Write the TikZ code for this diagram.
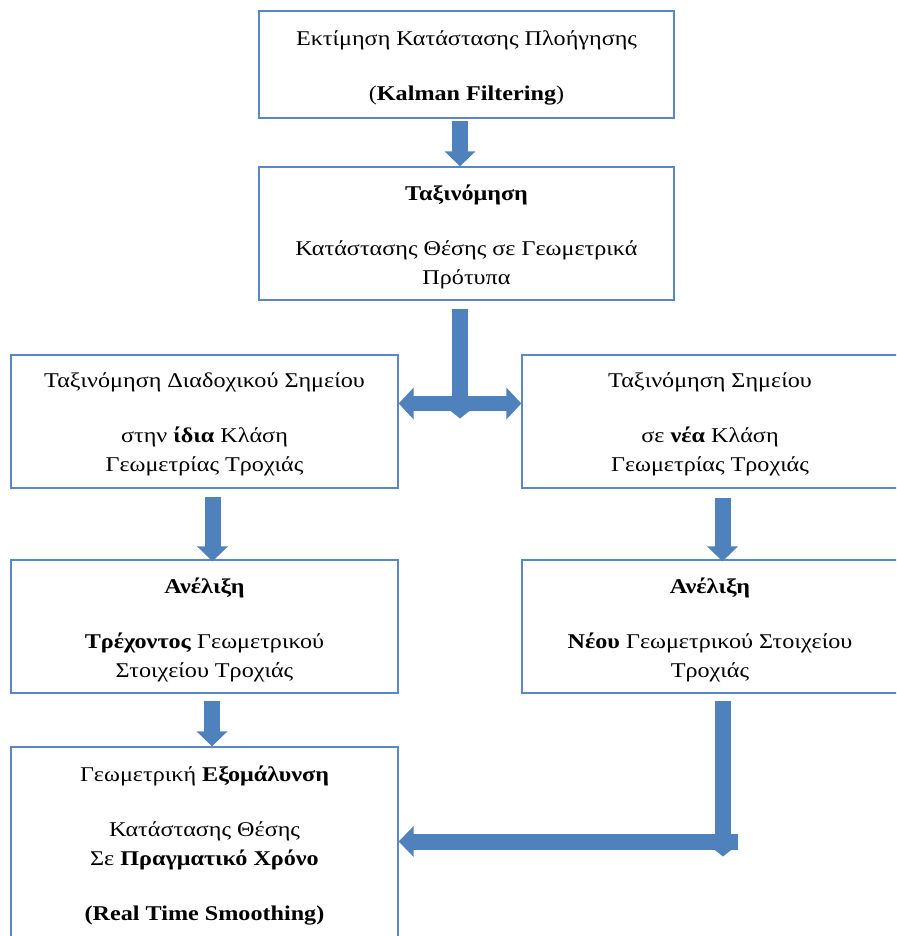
\documentclass[tikz,border=0pt]{standalone}
\usepackage{fontspec}
\setmainfont[FakeStretch=1.15]{Liberation Serif}
\usetikzlibrary{arrows.meta}
\definecolor{boxblue}{HTML}{5B87C3}
\definecolor{arrowblue}{HTML}{4F81BD}
\newcommand{\mainfs}{\fontsize{21}{29}\selectfont}
\tikzset{
  box/.style={draw=boxblue, line width=1.3pt, inner sep=0pt},
  boxtext/.style={inner sep=0pt, align=center, font=\mainfs, yshift=-3pt},
  fatline/.style={draw=arrowblue, line width=16pt},
  fat/.style={draw=arrowblue, line width=16pt, -{Triangle[length=15pt,width=30pt]}},
  fatboth/.style={draw=arrowblue, line width=15pt, {Triangle[length=15pt,width=31pt]}-{Triangle[length=15pt,width=31pt]}},
}
\begin{document}
\begin{tikzpicture}[x=1pt,y=-1pt]
\useasboundingbox (0,0) rectangle (896,936);
\clip (0,0) rectangle (896,936);
\fill[white] (0,0) rectangle (896,936);

\node[box, minimum width=415pt, minimum height=107pt] (b1) at (466.5,64.5) {};
\node[boxtext] (t1) at (b1.center)
  {Εκτίμηση Κατάστασης Πλοήγησης\\[26pt](\textbf{Kalman Filtering})};
\node[box, minimum width=415pt, minimum height=133pt] (b2) at (466.5,233.5) {};
\node[boxtext] (t2) at (b2.center)
  {\textbf{Ταξινόμηση}\\[26pt]Κατάστασης Θέσης σε Γεωμετρικά\\Πρότυπα};
\node[box, minimum width=387pt, minimum height=133pt] (b3l) at (204.5,421.5) {};
\node[boxtext] (t3l) at (b3l.center)
  {Ταξινόμηση Διαδοχικού Σημείου\\[26pt]στην \textbf{ίδια} Κλάση\\Γεωμετρίας Τροχιάς};
\node[box, minimum width=376pt, minimum height=133pt] (b3r) at (710,421.5) {};
\node[boxtext] (t3r) at (b3r.center)
  {Ταξινόμηση Σημείου\\[26pt]σε \textbf{νέα} Κλάση\\Γεωμετρίας Τροχιάς};
\node[box, minimum width=387pt, minimum height=133pt] (b4l) at (204.5,626.5) {};
\node[boxtext] (t4l) at (b4l.center)
  {\textbf{Ανέλιξη}\\[26pt]\textbf{Τρέχοντος} Γεωμετρικού\\Στοιχείου Τροχιάς};
\node[box, minimum width=376pt, minimum height=133pt] (b4r) at (710,626.5) {};
\node[boxtext] (t4r) at (b4r.center)
  {\textbf{Ανέλιξη}\\[26pt]\textbf{Νέου} Γεωμετρικού Στοιχείου\\Τροχιάς};
\node[box, minimum width=387pt, minimum height=193pt] (b5) at (204.5,843.5) {};
\node[boxtext, yshift=1pt] (t5) at (b5.center)
  {Γεωμετρική \textbf{Εξομάλυνση}\\[26pt]Κατάστασης Θέσης\\Σε \textbf{Πραγματικό Χρόνο}\\[26pt]\textbf{(Real Time Smoothing)}};

% arrows
\draw[fat] ([xshift=-6.5pt,yshift=-2pt]b1.south) -- ([xshift=-6.5pt]b2.north);

\coordinate (tj) at (460,403.5);
\draw[fatline] ([yshift=-8pt]b2.south -| tj) -- (tj);
\draw[fatboth] (b3l.east |- tj) -- (b3r.west |- tj);
\fill[arrowblue] (tj) ++(-10,7) -- ++(20,0) -- ++(-10,8) -- cycle;

\draw[fat] ([xshift=8pt,yshift=-8pt]b3l.south) -- ([xshift=8pt,yshift=-2pt]b4l.north);
\draw[fat] ([xshift=12.5pt,yshift=-9pt]b3r.south) -- ([xshift=12.5pt,yshift=-2pt]b4r.north);
\draw[fat] ([xshift=7.5pt,yshift=-7pt]b4l.south) -- ([xshift=7.5pt]b5.north);

\coordinate (lc) at (723,841.5);
\coordinate (lend) at (738,841.5);
\draw[fatline] ([yshift=-7pt]b4r.south -| lc) -- (lc);
\draw[fat] (lend) -- (b5.east |- lc);
\fill[arrowblue] (lc) ++(-10,7) -- ++(20,0) -- ++(-10,8) -- cycle;
\end{tikzpicture}
\end{document}
